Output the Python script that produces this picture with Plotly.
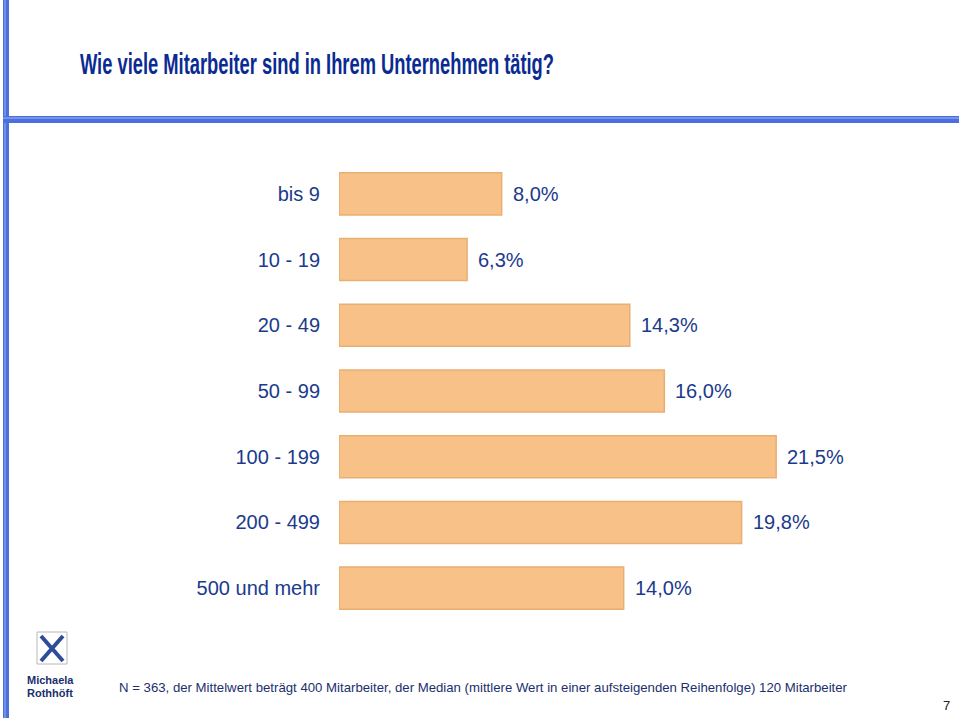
import plotly.graph_objects as go

categories = ["bis 9", "10 - 19", "20 - 49", "50 - 99", "100 - 199", "200 - 499", "500 und mehr"]
values = [8.0, 6.3, 14.3, 16.0, 21.5, 19.8, 14.0]
value_labels = ["8,0%", "6,3%", "14,3%", "16,0%", "21,5%", "19,8%", "14,0%"]

title_text = "Wie viele Mitarbeiter sind in Ihrem Unternehmen tätig?"
footer_text = "N = 363, der Mittelwert beträgt 400 Mitarbeiter, der Median (mittlere Wert in einer aufsteigenden Reihenfolge) 120 Mitarbeiter"
page_number = "7"

W, H = 959, 718
L, R, T, B = 339, 10, 161, 97
pw, ph = W - L - R, H - T - B

def px(xp):
    return (xp - L) / pw

def py(yp_top):
    # yp_top measured from top of page in pixels
    return (H - yp_top - B) / ph

fig = go.Figure()
fig.add_trace(go.Bar(
    y=categories, x=values, orientation="h",
    marker=dict(color="#F8C187", line=dict(color="#E9AF72", width=1.5)),
    hoverinfo="skip", showlegend=False,
))

annotations = []
for c, v, lab in zip(categories, values, value_labels):
    annotations.append(dict(x=v, y=c, xref="x", yref="y", text=lab, showarrow=False,
                            xanchor="left", yanchor="middle", xshift=9,
                            font=dict(family="Liberation Sans, Arial", size=20, color="#1B3A8C")))

def pa(x, y, text, size, color, xanchor="left", bold=False):
    return dict(x=px(x), y=py(y), xref="paper", yref="paper", text=text, showarrow=False,
                xanchor=xanchor, yanchor="middle",
                font=dict(family="Liberation Sans, Arial", size=size, color=color,
                          weight="bold" if bold else "normal"))

annotations += [
    pa(78, 64, title_text, 29, "#0A2B91", bold=True),
    pa(117, 687, footer_text, 13.2, "#1B2F6E"),
    pa(952, 705, page_number, 13, "#222222", xanchor="right"),
    pa(50, 680, "Michaela", 11, "#1B2F6E", xanchor="center", bold=True),
    pa(50, 693, "Rothhöft", 11, "#1B2F6E", xanchor="center", bold=True),
]

def rect(x0, y0, x1, y1, color, line=None, width=0):
    return dict(type="rect", xref="paper", yref="paper",
                x0=px(x0), x1=px(x1), y0=py(y1), y1=py(y0),
                fillcolor=color, line=dict(color=line or color, width=width), layer="above")

def seg(x0, y0, x1, y1, color, width):
    return dict(type="line", xref="paper", yref="paper",
                x0=px(x0), x1=px(x1), y0=py(y0), y1=py(y1),
                line=dict(color=color, width=width), layer="above")

shapes = [
    rect(3, 0, 9, 718, "#4B6FDB"),
    rect(4, 0, 6, 718, "#6F8FEA"),
    rect(3, 116, 959, 123, "#4B6FDB"),
    rect(3, 117, 959, 119, "#7593EC"),
    # logo
    rect(37, 632, 67, 664, "rgba(0,0,0,0)", line="#B8B8B8", width=1),
    seg(41, 636, 63, 661, "#2E4C9A", 4),
    seg(63, 636, 41, 661, "#2E4C9A", 4),
]

fig.update_layout(
    width=W, height=H,
    margin=dict(l=L, r=R, t=T, b=B),
    paper_bgcolor="white", plot_bgcolor="white",
    bargap=0.36,
    xaxis=dict(range=[0, 30], visible=False, fixedrange=True),
    yaxis=dict(autorange="reversed", showgrid=False, zeroline=False, showline=False,
               ticks="", ticklabelstandoff=18, fixedrange=True,
               tickfont=dict(family="Liberation Sans, Arial", size=20, color="#1B3A8C")),
    annotations=annotations,
    shapes=shapes,
)

# condense the title horizontally (the original uses a narrow bold face), keeping its left edge
post = """
var gd = document.getElementById('{plot_id}');
function condense(){
  gd.querySelectorAll('.annotation-text').forEach(function(t){
    if (t.textContent.indexOf('Wie viele') === 0 && !t.getAttribute('textLength')) {
      var w = t.getComputedTextLength();
      var x = parseFloat(t.getAttribute('x')) || 0;
      t.setAttribute('text-anchor', 'start');
      t.setAttribute('x', String(x - w / 2));
      t.setAttribute('textLength', '474');
      t.setAttribute('lengthAdjust', 'spacingAndGlyphs');
    }
  });
}
condense();
gd.on('plotly_afterplot', condense);
"""

fig.write_html("out.html", post_script=post)
